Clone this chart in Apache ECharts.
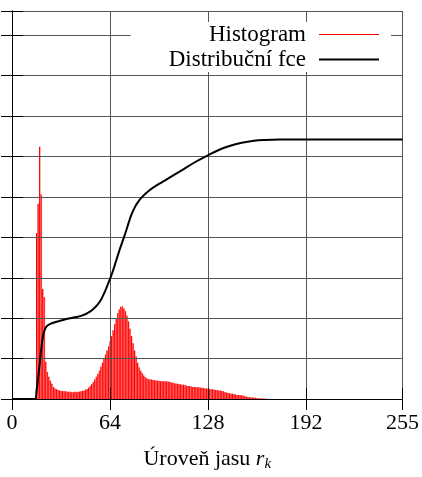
<!DOCTYPE html>
<html>
<head>
<meta charset="utf-8">
<script src="https://cdn.jsdelivr.net/npm/echarts@6/dist/echarts.min.js"></script>
<style>
  html, body { margin: 0; padding: 0; background: #fff; }
  #histChar { width: 422px; height: 477px; }
</style>
</head>
<body>
<div id="histChar"></div>
<script>
// x axis tick labels (grey levels)
var xTicks = [0, 64, 128, 192, 255];

// histogram: one value per grey level, starting at histStart
var histStart = 16;
var histValues = [
  4.1, 4.83, 6.24, 5.06, 2.72, 2.52, 0.92, 0.67, 0.55, 0.45,
  0.38, 0.3, 0.26, 0.24, 0.22, 0.21, 0.2, 0.2, 0.19, 0.19,
  0.18, 0.18, 0.18, 0.17, 0.17, 0.18, 0.17, 0.18, 0.18, 0.19,
  0.2, 0.21, 0.23, 0.25, 0.28, 0.32, 0.37, 0.42, 0.48, 0.55,
  0.62, 0.7, 0.8, 0.9, 1.0, 1.1, 1.2, 1.3, 1.42, 1.55,
  1.7, 1.85, 2.0, 2.12, 2.22, 2.28, 2.29, 2.24, 2.17, 2.06,
  1.92, 1.74, 1.56, 1.38, 1.2, 1.05, 0.9, 0.78, 0.7, 0.64,
  0.58, 0.54, 0.51, 0.49, 0.48, 0.48, 0.47, 0.47, 0.46, 0.45,
  0.45, 0.44, 0.44, 0.44, 0.44, 0.43, 0.43, 0.42, 0.41, 0.4,
  0.39, 0.38, 0.38, 0.37, 0.36, 0.35, 0.35, 0.34, 0.33, 0.32,
  0.32, 0.31, 0.3, 0.3, 0.3, 0.29, 0.29, 0.28, 0.28, 0.27,
  0.26, 0.26, 0.25, 0.25, 0.24, 0.24, 0.23, 0.22, 0.22, 0.21,
  0.21, 0.2, 0.19, 0.17, 0.16, 0.15, 0.14, 0.13, 0.13, 0.12,
  0.11, 0.1, 0.1, 0.09, 0.09, 0.08, 0.07, 0.06, 0.05, 0.05,
  0.04, 0.04, 0.03, 0.03, 0.02, 0.02, 0.015, 0.01, 0.01, 0.005,
  0.005
];

// distribution function, read at these levels
var cdfLevels = [0, 15, 16, 17, 18, 19, 20, 21, 22, 23, 25, 28, 32, 37, 42, 46, 49, 52, 54, 56,
  58, 60, 62, 64, 66, 68, 70, 72, 74, 76, 78, 80, 82, 85, 90, 95, 100, 110, 120, 128,
  135, 142, 150, 158, 165, 175, 255];
var cdfValues = [0, 0, 0.2, 0.5, 0.85, 1.2, 1.5, 1.67, 1.76, 1.81, 1.86, 1.9, 1.94, 1.99, 2.03, 2.07, 2.12, 2.19, 2.26, 2.34,
  2.45, 2.6, 2.78, 2.97, 3.18, 3.42, 3.66, 3.88, 4.1, 4.34, 4.56, 4.73, 4.86, 5.0, 5.17, 5.3, 5.41, 5.64, 5.87, 6.03,
  6.16, 6.26, 6.34, 6.39, 6.41, 6.42, 6.42];

var font = "'Liberation Serif', serif";

function eachOf(arr, fn) {
  for (var i = 0; i < arr.length; i++) fn(i, arr[i]);
}

var histData = [];
eachOf(histValues, function (i, v) { histData.push([histStart + i, v]); });
var cdfData = [];
eachOf(cdfLevels, function (i, v) { cdfData.push([v, cdfValues[i]]); });

var frameAxis = function (pos, isX) {
  return {
    type: 'value',
    position: pos,
    min: 0,
    max: isX ? 255 : 9.6,
    interval: isX ? 64 : 1,
    z: 3,
    axisLine: { show: true, lineStyle: { color: '#000', width: 1 } },
    axisTick: { show: true, inside: true, length: 11, lineStyle: { color: '#000', width: 1 } },
    axisLabel: { show: false },
    splitLine: { show: false }
  };
};

var xMain = frameAxis('bottom', true);
xMain.axisLabel = {
  show: true, color: '#000', fontFamily: font, fontSize: 22, margin: 13,
  customValues: xTicks
};
xMain.axisTick.customValues = xTicks;
xMain.splitLine = { show: true, lineStyle: { color: '#555', width: 1 } };
xMain.name = 'Úroveň jasu {r|r}{k|k}';
xMain.nameLocation = 'middle';
xMain.nameGap = 48;
xMain.nameTextStyle = {
  color: '#000', fontFamily: font, fontSize: 22,
  rich: {
    r: { fontFamily: font, fontSize: 22, fontStyle: 'italic', color: '#000' },
    k: { fontFamily: font, fontSize: 15, fontStyle: 'italic', color: '#000', padding: [10, 0, 0, 0] }
  }
};
var xTop = frameAxis('top', true);
xTop.axisTick.customValues = xTicks;

var yMain = frameAxis('left', false);
yMain.splitLine = { show: true, lineStyle: { color: '#555', width: 1 } };
var yRight = frameAxis('right', false);

var myChart = echarts.init(document.getElementById('histChar'));
var option = {
  animation: false,
  backgroundColor: '#fff',
  grid: { left: 12, right: 18, top: 11, bottom: 75 },
  legend: {
    orient: 'vertical',
    align: 'right',
    right: 31,
    top: 22,
    z: 4,
    backgroundColor: '#fff',
    padding: [1, 12, 1, 38],
    itemWidth: 60,
    itemHeight: 14,
    itemGap: 2,
    textStyle: { fontFamily: font, fontSize: 23, color: '#000', padding: [0, 8, 0, 0] },
    data: [
      { name: 'Histogram', icon: 'path://M0,0H60V1H0Z', itemStyle: { color: '#ff0000' } },
      { name: 'Distribuční fce', icon: 'path://M0,0H60V2H0Z', itemStyle: { color: '#000' } }
    ]
  },
  xAxis: [xMain, xTop],
  yAxis: [yMain, yRight],
  series: [
    {
      // pale fill between the impulses
      name: 'Histogram',
      type: 'bar',
      barWidth: 1.5,
      barGap: '-100%',
      z: 1,
      itemStyle: { color: '#ff8080' },
      data: histData
    },
    {
      name: 'Histogram',
      type: 'bar',
      barWidth: 1,
      barGap: '-100%',
      z: 2,
      itemStyle: { color: '#ff0000' },
      data: histData
    },
    {
      name: 'Distribuční fce',
      type: 'line',
      z: 5,
      showSymbol: false,
      symbol: 'none',
      smooth: 0.4,
      lineStyle: { color: '#000', width: 2 },
      data: cdfData
    }
  ]
};
myChart.setOption(option);
window.onresize = myChart.resize;
</script>
</body>
</html>
